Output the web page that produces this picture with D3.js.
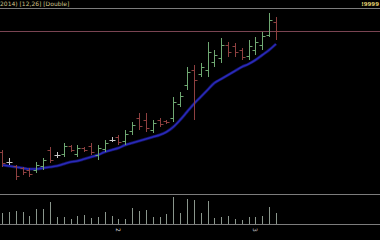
<!DOCTYPE html>
<html><head><meta charset="utf-8">
<script src="https://cdn.jsdelivr.net/npm/d3@7"></script>
<style>html,body{margin:0;padding:0;background:#000;overflow:hidden}</style>
</head><body><svg id="c" width="380" height="240"></svg>
<script>
const high  = [24.4,23.6,22.9,22.7,22.6,23.2,23.6,24.7,24.2,25.1,24.9,24.9,24.7,25.1,24.9,25.4,25.7,25.9,26.4,27.2,28.1,28.1,27.4,27.6,27.4,29.7,30.2,32.7,32.9,33.1,35.2,34.4,35.6,35.2,35.1,34.6,35.4,35.7,36.2,38.1,37.7];
const low   = [22.7,22.9,21.4,21.9,21.7,22.1,22.4,23.1,23.6,23.7,24.2,23.7,24.2,23.9,23.4,24.2,25.2,24.9,24.9,25.9,26.4,26.2,26.1,26.7,27.0,27.2,28.7,30.4,27.4,31.7,31.7,32.7,33.1,33.7,33.7,33.4,33.4,33.9,34.4,35.7,35.4];
const open  = [24.2,23.2,22.8,22.6,22.4,22.4,22.8,24.4,23.9,24.0,24.8,24.0,24.6,24.8,23.9,24.5,25.4,25.7,25.3,26.3,27.6,27.4,26.4,27.4,27.3,27.6,29.0,30.9,32.4,32.0,32.4,33.2,33.6,34.9,34.8,34.4,33.8,34.4,34.9,35.9,37.2];
const close = [23.1,23.2,21.8,22.2,22.0,22.9,23.4,23.4,23.9,24.8,24.4,24.6,24.4,24.2,24.6,25.1,25.4,25.2,26.0,26.9,26.8,26.6,27.1,27.0,27.2,29.2,29.8,32.2,31.4,32.7,34.2,33.9,34.9,34.2,34.2,33.7,34.8,35.2,35.8,37.4,36.3];
const avg   = [22.9,22.8,22.7,22.6,22.5,22.5,22.6,22.7,22.8,23.0,23.2,23.3,23.5,23.7,23.9,24.2,24.4,24.6,24.9,25.1,25.3,25.5,25.7,25.9,26.2,26.7,27.4,28.2,29.0,29.7,30.4,31.1,31.5,31.9,32.3,32.7,33.0,33.4,33.9,34.4,35.0];
const volume= [11,12,13,12,8,15,15,22,7,7,5,8,9,6,7,12,8,5,5,16,13,14,7,7,10,27,11,25,24,11,23,6,7,8,5,4,7,7,8,17,11];
const tickIndex  = [17, 37];
const tickLabels = ["2", "3"];
const titleText = "2014) [12,26] [Double]";
const lastLabel = "!9999";

const svg = d3.select("#c");
svg.append("rect").attr("width",380).attr("height",240).attr("fill","#000");
const idx = d3.range(high.length);
const x = d3.scalePoint().domain(idx).range([2, 276]);
const y = d3.scaleLinear().domain([20, 38.6]).range([194, 8]);
const yv = d3.scaleLinear().domain([0, 30]).range([224, 194]);

// frame lines
[8.5, 194.5, 224.5].forEach(yy=>{
  svg.append("line").attr("x1",0).attr("x2",380).attr("y1",yy).attr("y2",yy).attr("stroke","#7c7c7c").attr("stroke-width",1);
});
// last close level
const ly = Math.round(y(close[close.length-1]))+0.5;
svg.append("line").attr("x1",0).attr("x2",380).attr("y1",ly).attr("y2",ly).attr("stroke","#7a4452").attr("stroke-width",1);

// moving average
svg.append("path").datum(avg)
  .attr("d", d3.line().x((d,i)=>x(i)).y(d=>y(d)).curve(d3.curveMonotoneX))
  .attr("fill","none").attr("stroke","#1e1e9c").attr("stroke-width",3).attr("opacity",0.6);
svg.append("path").datum(avg)
  .attr("d", d3.line().x((d,i)=>x(i)).y(d=>y(d)).curve(d3.curveMonotoneX))
  .attr("fill","none").attr("stroke","#2a2ab8").attr("stroke-width",1.6);

const col = i => close[i] > open[i] ? "#6fa872" : (close[i] < open[i] ? "#8e4040" : "#c8c8c8");
const g = svg.append("g");
idx.forEach(i=>{
  const cx = Math.round(x(i)) + 0.5;
  g.append("line").attr("x1",cx).attr("x2",cx).attr("y1",y(high[i])).attr("y2",y(low[i])).attr("stroke",col(i)).attr("stroke-width",1);
  g.append("line").attr("x1",cx-3).attr("x2",cx).attr("y1",Math.round(y(open[i]))+0.5).attr("y2",Math.round(y(open[i]))+0.5).attr("stroke",col(i)).attr("stroke-width",1);
  g.append("line").attr("x1",cx).attr("x2",cx+3).attr("y1",Math.round(y(close[i]))+0.5).attr("y2",Math.round(y(close[i]))+0.5).attr("stroke",col(i)).attr("stroke-width",1);
});

// volume
svg.append("g").selectAll("line").data(volume).join("line")
  .attr("x1",(d,i)=>Math.round(x(i))+0.5).attr("x2",(d,i)=>Math.round(x(i))+0.5)
  .attr("y1",yv(0)).attr("y2",d=>yv(d))
  .attr("stroke","#8a968c").attr("stroke-width",1);

// x tick labels
tickIndex.forEach((ti,k)=>{
  svg.append("text").attr("transform",`translate(${x(ti)-1},228) rotate(90)`)
    .attr("font-family","DejaVu Sans").attr("font-size",6).attr("fill","#cfcfcf")
    .attr("dominant-baseline","middle").text(tickLabels[k]);
});

// title
svg.append("text").attr("x",0).attr("y",6).attr("font-family","DejaVu Sans").attr("font-size",6)
  .attr("fill","#cfc38a").text(titleText);
svg.append("text").attr("x",379).attr("y",6).attr("text-anchor","end").attr("font-family","DejaVu Sans").attr("font-size",5.5)
  .attr("font-weight","bold").attr("fill","#e0d070").text(lastLabel);
</script></body></html>
